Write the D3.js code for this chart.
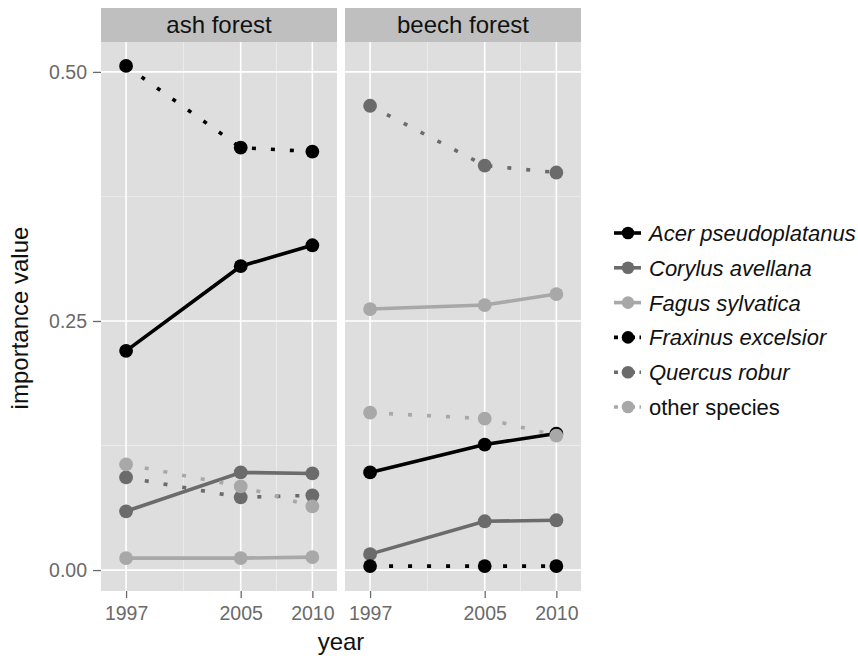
<!DOCTYPE html>
<html>
<head>
<meta charset="utf-8">
<script src="https://cdn.jsdelivr.net/npm/d3@7"></script>
<style>
  body { margin: 0; background: #fff; }
  svg text { font-family: "Liberation Sans", Arial, sans-serif; }
</style>
</head>
<body>
<div class="container"></div>
<script>
//data
var years = [1997, 2005, 2010];
var forests = ["ash forest", "beech forest"];
var species = ["Acer pseudoplatanus", "Corylus avellana", "Fagus sylvatica",
               "Fraxinus excelsior", "Quercus robur", "other species"];
var speciesItalic = [true, true, true, true, true, false];
var speciesColor = ["#000000", "#6b6b6b", "#a8a8a8", "#000000", "#6b6b6b", "#a8a8a8"];
var speciesDotted = [false, false, false, true, true, true];

//importance value per species, one row per species, columns = years
var ashValues = [
    [0.220, 0.305, 0.326],
    [0.059, 0.098, 0.097],
    [0.012, 0.012, 0.013],
    [0.506, 0.424, 0.420],
    [0.093, 0.073, 0.075],
    [0.106, 0.084, 0.064]
];
var beechValues = [
    [0.098, 0.126, 0.137],
    [0.016, 0.049, 0.050],
    [0.262, 0.266, 0.277],
    [0.004, 0.004, 0.004],
    [0.466, 0.406, 0.399],
    [0.158, 0.152, 0.135]
];
var yTicks = [0, 0.25, 0.5];
var yMinor = [0.125, 0.375];
var xMinor = [2001, 2007.5];

(function () {
    var width = 858, height = 660;
    var panelTop = 42, panelBottom = 591, stripTop = 8;
    var panelLefts = [101, 345], panelW = 236;
    var tickGrey = "#6a6a6a";

    var svg = d3.select(".container").append("svg")
        .attr("width", width)
        .attr("height", height);

    var yScale = d3.scaleLinear()
        .domain([-0.021, 0.530])
        .range([panelBottom, panelTop]);

    var line = function (xScale) {
        return d3.line()
            .x(function (d) { return xScale(d.year); })
            .y(function (d) { return yScale(d.value); });
    };

    var allValues = [ashValues, beechValues];

    forests.forEach(function (forest, fi) {
        var x0 = panelLefts[fi];
        var xScale = d3.scaleLinear()
            .domain([1995.25, 2011.72])
            .range([x0, x0 + panelW]);

        var g = svg.append("g");

        //strip
        g.append("rect")
            .attr("x", x0).attr("y", stripTop)
            .attr("width", panelW).attr("height", panelTop - stripTop)
            .attr("fill", "#bfbfbf");
        g.append("text")
            .attr("x", x0 + panelW / 2).attr("y", 33)
            .attr("text-anchor", "middle")
            .attr("font-size", 24)
            .attr("fill", "#111")
            .text(forest);

        //panel background
        g.append("rect")
            .attr("x", x0).attr("y", panelTop)
            .attr("width", panelW).attr("height", panelBottom - panelTop)
            .attr("fill", "#dedede");

        //minor grid
        g.selectAll(".minY").data(yMinor).enter().append("line")
            .attr("x1", x0).attr("x2", x0 + panelW)
            .attr("y1", yScale).attr("y2", yScale)
            .attr("stroke", "#eeeeee").attr("stroke-width", 0.8);
        g.selectAll(".minX").data(xMinor).enter().append("line")
            .attr("x1", xScale).attr("x2", xScale)
            .attr("y1", panelTop).attr("y2", panelBottom)
            .attr("stroke", "#eeeeee").attr("stroke-width", 0.8);

        //major grid
        g.selectAll(".majY").data(yTicks).enter().append("line")
            .attr("x1", x0).attr("x2", x0 + panelW)
            .attr("y1", yScale).attr("y2", yScale)
            .attr("stroke", "#ffffff").attr("stroke-width", 1.6);
        g.selectAll(".majX").data(years).enter().append("line")
            .attr("x1", xScale).attr("x2", xScale)
            .attr("y1", panelTop).attr("y2", panelBottom)
            .attr("stroke", "#ffffff").attr("stroke-width", 1.6);

        //x axis
        var xAxis = d3.axisBottom(xScale)
            .tickValues(years)
            .tickFormat(d3.format("d"))
            .tickSize(7)
            .tickPadding(8);
        var xa = g.append("g")
            .attr("transform", "translate(0," + panelBottom + ")")
            .call(xAxis);
        xa.select(".domain").remove();
        xa.selectAll(".tick line").attr("stroke", tickGrey).attr("stroke-width", 1.3);
        xa.selectAll(".tick text")
            .attr("font-size", 19.5)
            .attr("fill", tickGrey)
            .attr("font-family", "Liberation Sans, Arial, sans-serif");

        //y axis only on first panel
        if (fi === 0) {
            var yAxis = d3.axisLeft(yScale)
                .tickValues(yTicks)
                .tickFormat(d3.format(".2f"))
                .tickSize(8)
                .tickPadding(6);
            var ya = g.append("g")
                .attr("transform", "translate(" + x0 + ",0)")
                .call(yAxis);
            ya.select(".domain").remove();
            ya.selectAll(".tick line").attr("stroke", tickGrey).attr("stroke-width", 1.3);
            ya.selectAll(".tick text")
                .attr("font-size", 19.5)
                .attr("fill", tickGrey)
                .attr("font-family", "Liberation Sans, Arial, sans-serif");
        }

        //series lines then points, in species order
        var vals = allValues[fi];
        species.forEach(function (sp, si) {
            var pts = years.map(function (yr, i) { return { year: yr, value: vals[si][i] }; });
            g.append("path")
                .datum(pts)
                .attr("d", line(xScale))
                .attr("fill", "none")
                .attr("stroke", speciesColor[si])
                .attr("stroke-width", 3.6)
                .attr("stroke-dasharray", speciesDotted[si] ? "4,15" : null);
            g.selectAll(".pt" + si).data(pts).enter().append("circle")
                .attr("cx", function (d) { return xScale(d.year); })
                .attr("cy", function (d) { return yScale(d.value); })
                .attr("r", 6.9)
                .attr("fill", speciesColor[si]);
        });
    });

    //axis titles
    svg.append("text")
        .attr("x", 341).attr("y", 650)
        .attr("text-anchor", "middle")
        .attr("font-size", 24)
        .attr("fill", "#111")
        .text("year");
    svg.append("text")
        .attr("transform", "translate(28,318) rotate(-90)")
        .attr("text-anchor", "middle")
        .attr("font-size", 24)
        .attr("fill", "#111")
        .text("importance value");

    //legend
    var legend = svg.append("g").attr("transform", "translate(614,233)");
    species.forEach(function (sp, si) {
        var row = legend.append("g").attr("transform", "translate(0," + si * 34.8 + ")");
        row.append("line")
            .attr("x1", 0).attr("x2", 27)
            .attr("y1", 0).attr("y2", 0)
            .attr("stroke", speciesColor[si])
            .attr("stroke-width", 3.6)
            .attr("stroke-dasharray", speciesDotted[si] ? "4,4.5" : null);
        row.append("circle")
            .attr("cx", 14).attr("cy", 0).attr("r", 6.3)
            .attr("fill", speciesColor[si]);
        row.append("text")
            .attr("x", 35).attr("y", 8)
            .attr("font-size", 22)
            .attr("font-style", speciesItalic[si] ? "italic" : "normal")
            .attr("fill", "#111")
            .text(sp);
    });
})();
</script>
</body>
</html>
